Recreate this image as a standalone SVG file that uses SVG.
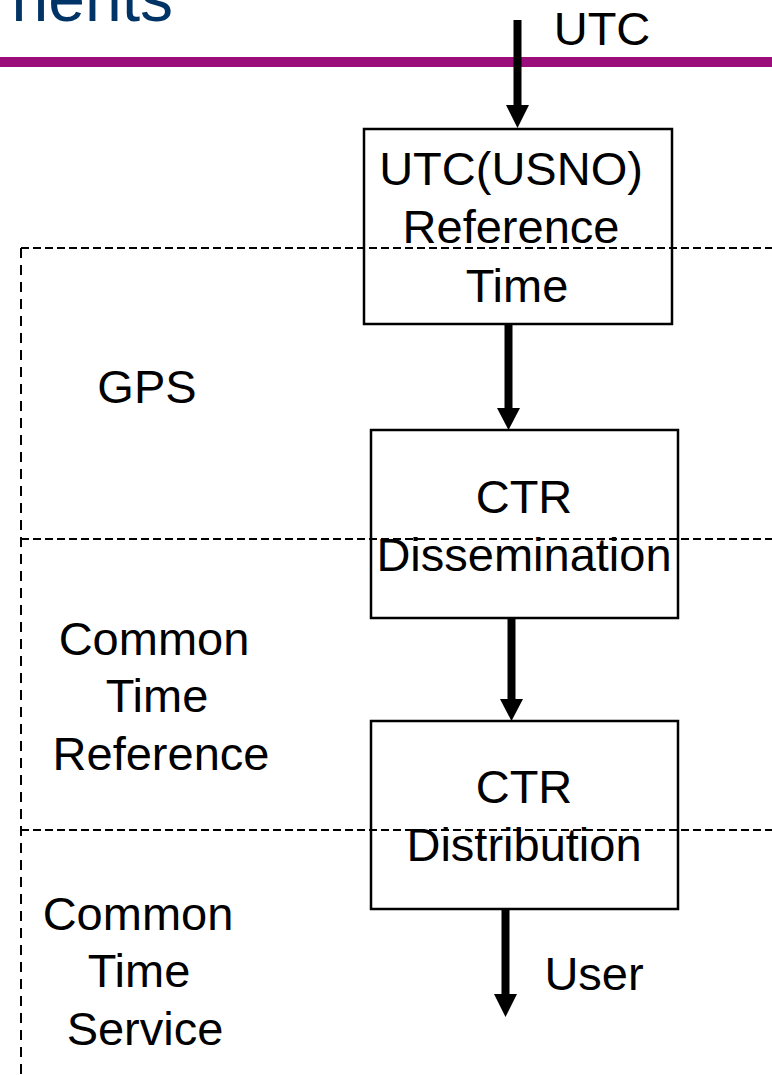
<svg xmlns="http://www.w3.org/2000/svg" width="772" height="1075" viewBox="0 0 772 1075">
<defs>
<style>
text{font-family:"Liberation Sans",Arial,sans-serif;font-size:47px;fill:#000;text-anchor:middle}
.box{fill:none;stroke:#000;stroke-width:2.5}
.dash{fill:none;stroke:#000;stroke-width:2;stroke-dasharray:8 4}
.vdash{fill:none;stroke:#000;stroke-width:2;stroke-dasharray:10 7}
.shaft{stroke:#000;stroke-width:8;fill:none}
.head{fill:#000}
</style>
</defs>
<rect width="772" height="1075" fill="#fff"/>
<g id="title">
<text x="173" y="21" style="font-size:66px;fill:#003366;text-anchor:end">nents</text>
<rect x="0" y="57" width="772" height="10" fill="#9B0D7B"/>
</g>
<g id="dividers">
<line class="dash" x1="21" y1="248" x2="772" y2="248"/>
<line class="dash" x1="21" y1="539" x2="772" y2="539"/>
<line class="dash" x1="21" y1="830" x2="772" y2="830"/>
<line class="vdash" x1="21" y1="248" x2="21" y2="1075"/>
</g>
<g id="labels">
<text x="147" y="403">GPS</text>
<text x="154" y="655">Common</text>
<text x="157" y="712">Time</text>
<text x="161" y="770">Reference</text>
<text x="138" y="930">Common</text>
<text x="139" y="987">Time</text>
<text x="145" y="1045">Service</text>
</g>
<g id="utc-ref">
<rect class="box" x="364" y="129" width="308" height="195"/>
<text x="511" y="185">UTC(USNO)</text>
<text x="511" y="243">Reference</text>
<text x="517" y="302">Time</text>
</g>
<g id="ctr-dissemination">
<rect class="box" x="371" y="430" width="307" height="188"/>
<text x="524" y="513">CTR</text>
<text x="524" y="571">Dissemination</text>
</g>
<g id="ctr-distribution">
<rect class="box" x="371" y="721" width="307" height="188"/>
<text x="524" y="803">CTR</text>
<text x="524" y="861">Distribution</text>
</g>
<g id="connectors">
<line class="shaft" x1="517.5" y1="20" x2="517.5" y2="110"/>
<polygon class="head" points="506,105 529,105 517.5,128"/>
<text x="602" y="45">UTC</text>
<line class="shaft" x1="508.5" y1="324" x2="508.5" y2="412"/>
<polygon class="head" points="497,408 520,408 508.5,430"/>
<line class="shaft" x1="511.5" y1="618" x2="511.5" y2="703"/>
<polygon class="head" points="500,699 523,699 511.5,721"/>
<line class="shaft" x1="505.5" y1="909" x2="505.5" y2="997"/>
<polygon class="head" points="494,994 517,994 505.5,1017"/>
<text x="594" y="990">User</text>
</g>
</svg>
